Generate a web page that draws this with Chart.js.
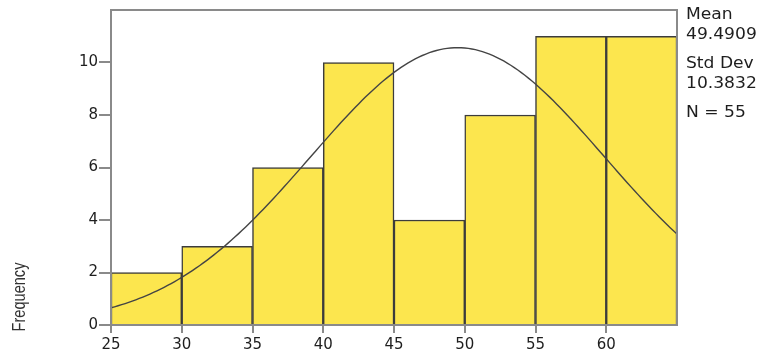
<!DOCTYPE html>
<html>
<head>
<meta charset="utf-8">
<script src="https://cdn.jsdelivr.net/npm/chart.js@4.4.0/dist/chart.umd.min.js"></script>
<style>
  html, body { margin: 0; padding: 0; background: #fff; }
  #wrap { width: 759px; height: 356px; position: relative; }
</style>
</head>
<body>
<div id="wrap"><canvas id="hist" width="759" height="356"></canvas></div>
<script>
// bin edges and counts of the histogram
const binEdges = [25, 30, 35, 40, 45, 50, 55, 60, 65];
const counts = [2, 3, 6, 10, 4, 8, 11, 11];
const yTicks = [0, 2, 4, 6, 8, 10];
const xTicks = [25, 30, 35, 40, 45, 50, 55, 60];

// summary statistics shown on the right
const mean = 49.4909;
const stdDev = 10.3832;
const n = 55;

const binWidth = binEdges[1] - binEdges[0];

// bars sit at bin centres
const barData = counts.map((c, i) => ({ x: (binEdges[i] + binEdges[i + 1]) / 2, y: c }));

// fitted normal curve scaled to counts, built from the stats above
const curveData = [];
for (let x = binEdges[0]; x <= binEdges[binEdges.length - 1] + 0.001; x += 0.25) {
    const z = (x - mean) / stdDev;
    const y = n * binWidth / (stdDev * Math.sqrt(2 * Math.PI)) * Math.exp(-0.5 * z * z);
    curveData.push({ x: x, y: y });
}

const FONT = "'DejaVu Sans', Verdana, sans-serif";
const GREY = "#8a8a8a";

// frame round the plot area + stats text + y title
const extras = {
    id: "extras",
    afterDraw(chart) {
        const { ctx, chartArea: a } = chart;
        ctx.save();
        ctx.strokeStyle = GREY;
        ctx.lineWidth = 2;
        ctx.strokeRect(a.left, a.top, a.right - a.left, a.bottom - a.top);

        // stats block, slightly widened
        ctx.save();
        ctx.translate(a.right + 9, 0);
        ctx.scale(1.07, 1);
        ctx.fillStyle = "#1e1e1e";
        ctx.font = "16px " + FONT;
        ctx.textBaseline = "middle";
        ctx.textAlign = "left";
        ctx.fillText("Mean", 0, 15);
        ctx.fillText(mean.toFixed(4), 0, 35);
        ctx.fillText("Std Dev", 0, 64);
        ctx.fillText(stdDev.toFixed(4), 0, 84);
        ctx.fillText("N = " + n, 0, 113);
        ctx.restore();

        // rotated axis title, squeezed along its length
        ctx.translate(25, 297);
        ctx.rotate(-Math.PI / 2);
        ctx.scale(0.81, 1);
        ctx.textAlign = "center";
        ctx.textBaseline = "alphabetic";
        ctx.font = "18px 'Liberation Sans', Arial, sans-serif";
        ctx.fillStyle = "#333";
        ctx.fillText("Frequency", 0, 0);
        ctx.restore();
    }
};

new Chart(document.getElementById("hist"), {
    type: "bar",
    data: {
        datasets: [
            {
                type: "line",
                data: curveData,
                borderColor: "#444",
                borderWidth: 1.4,
                pointRadius: 0,
                tension: 0,
                order: 0
            },
            {
                type: "bar",
                data: barData,
                backgroundColor: "#fce64e",
                borderColor: "#3c3c3c",
                borderWidth: 1.5,
                barPercentage: 1,
                categoryPercentage: 1,
                order: 1
            }
        ]
    },
    options: {
        responsive: false,
        animation: false,
        devicePixelRatio: 1,
        layout: { padding: { left: 0, top: 9, right: 82, bottom: 0 } },
        plugins: { legend: { display: false }, tooltip: { enabled: false } },
        scales: {
            x: {
                type: "linear",
                offset: false,
                min: binEdges[0],
                max: binEdges[binEdges.length - 1],
                afterBuildTicks(axis) { axis.ticks = xTicks.map(v => ({ value: v })); },
                afterFit(axis) { axis.height = 31; },
                ticks: { color: "#1e1e1e", font: { family: FONT, size: 15 }, padding: 3, maxRotation: 0 },
                grid: { offset: false, drawOnChartArea: false, color: GREY, lineWidth: 2, tickLength: 8 },
                border: { display: true, color: GREY, width: 2 }
            },
            y: {
                min: 0,
                max: 12,
                afterBuildTicks(axis) { axis.ticks = yTicks.map(v => ({ value: v })); },
                afterFit(axis) { axis.width = 111; },
                ticks: { color: "#1e1e1e", font: { family: FONT, size: 15 }, padding: 1 },
                grid: { drawOnChartArea: false, color: GREY, lineWidth: 2, tickLength: 12 },
                border: { display: true, color: GREY, width: 2 }
            }
        }
    },
    plugins: [extras]
});
</script>
</body>
</html>
